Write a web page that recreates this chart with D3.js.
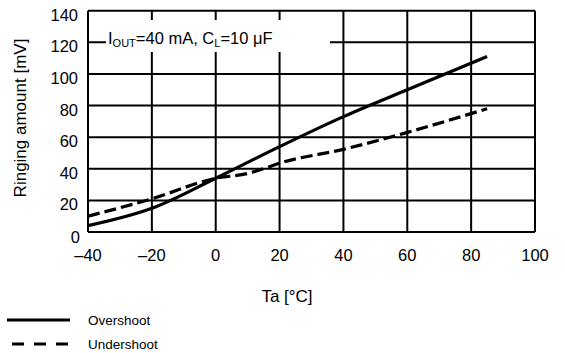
<!DOCTYPE html>
<html><head><meta charset="utf-8">
<script src="https://cdn.jsdelivr.net/npm/d3@7"></script>
<style>body{margin:0;background:#fff}svg{display:block;font-family:"Liberation Sans",Arial,sans-serif}text{fill:#000}</style>
</head><body><svg id="c" width="565" height="353"></svg>
<script>
const overshootT = [-40, -20, 0, 20, 40, 60, 85];
const overshootV = [4, 15, 34, 54, 73, 90, 111];
const undershootT = [-40, -20, 0, 10, 15, 20, 40, 60, 85];
const undershootV = [10, 21, 34, 37, 40, 43.5, 52.3, 63, 78];
const xTicks = [-40, -20, 0, 20, 40, 60, 80, 100];
const yTicks = [0, 20, 40, 60, 80, 100, 120, 140];

const svg = d3.select("#c");
const x = d3.scaleLinear().domain([-40, 100]).range([88, 535]);
const y = d3.scaleLinear().domain([0, 140]).range([232, 10.7]);

// grid
const g = svg.append("g");
g.selectAll("line.v").data(xTicks).join("line")
  .attr("x1", d => x(d)).attr("x2", d => x(d)).attr("y1", y(0)).attr("y2", y(140))
  .attr("stroke", "#000").attr("stroke-width", 2);
g.selectAll("line.h").data(yTicks).join("line")
  .attr("y1", d => y(d)).attr("y2", d => y(d)).attr("x1", x(-40)).attr("x2", x(100))
  .attr("stroke", "#000").attr("stroke-width", 2);

// condition label box
svg.append("rect").attr("x", 106).attr("y", 20).attr("width", 224).attr("height", 32).attr("fill", "#fff");
const lab = svg.append("text").attr("x", 108).attr("y", 44).attr("font-size", 16.5).attr("fill", "#000");
lab.append("tspan").text("I");
lab.append("tspan").attr("font-size", 11).attr("dy", 3).text("OUT");
lab.append("tspan").attr("dy", -3).text("=40 mA, C");
lab.append("tspan").attr("font-size", 11).attr("dy", 3).text("L");
lab.append("tspan").attr("dy", -3).text("=10 \u03BCF");

// tick labels
svg.selectAll("text.xt").data(xTicks).join("text")
  .attr("x", d => x(d)).attr("y", 261).attr("text-anchor", "middle").attr("font-size", 16.5).attr("fill", "#000")
  .text(d => d < 0 ? "\u2013" + Math.abs(d) : d);
svg.selectAll("text.yt").data(yTicks).join("text")
  .attr("x", d => d === 0 ? 80 : 78).attr("y", d => y(d) + (d === 0 ? 11 : 10)).attr("text-anchor", "end").attr("font-size", 16.5).attr("fill", "#000")
  .text(d => d);

// axis titles
svg.append("text").attr("x", 287).attr("y", 302).attr("text-anchor", "middle").attr("font-size", 17).attr("fill", "#000").text("Ta [\u00B0C]");
svg.append("text").attr("transform", "translate(26,118) rotate(-90)").attr("text-anchor", "middle").attr("font-size", 17).attr("fill", "#000").text("Ringing amount [mV]");

// lines
const line = d3.line().curve(d3.curveMonotoneX);
svg.append("path").attr("d", line(overshootT.map((t, i) => [x(t), y(overshootV[i])])))
  .attr("fill", "none").attr("stroke", "#000").attr("stroke-width", 3.2);
svg.append("path").attr("d", line(undershootT.map((t, i) => [x(t), y(undershootV[i])])))
  .attr("fill", "none").attr("stroke", "#000").attr("stroke-width", 3.2).attr("stroke-dasharray", "12,5");

// legend
svg.append("line").attr("x1", 7).attr("x2", 70).attr("y1", 320).attr("y2", 320).attr("stroke", "#000").attr("stroke-width", 3.2);
svg.append("text").attr("x", 88).attr("y", 325).attr("font-size", 13.5).attr("fill", "#000").text("Overshoot");
svg.append("line").attr("x1", 7).attr("x2", 70).attr("y1", 344).attr("y2", 344).attr("stroke", "#000").attr("stroke-width", 3.2).attr("stroke-dasharray", "0,5,12,5");
svg.append("text").attr("x", 88).attr("y", 349).attr("font-size", 13.5).attr("fill", "#000").text("Undershoot");
</script></body></html>
